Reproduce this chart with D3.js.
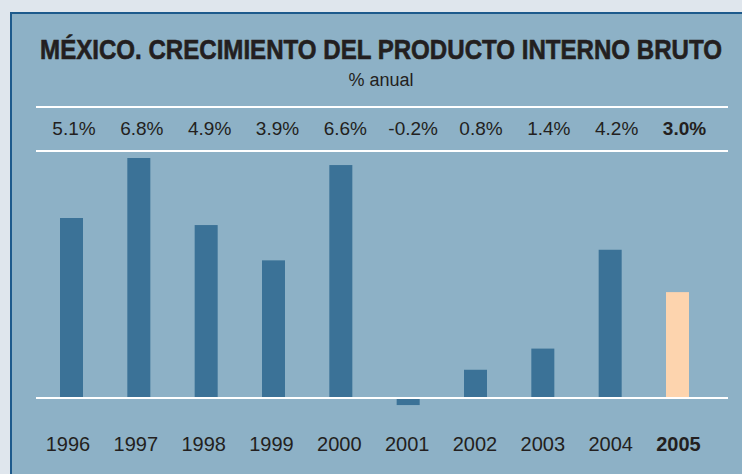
<!DOCTYPE html>
<html>
<head>
<meta charset="utf-8">
<script src="https://cdn.jsdelivr.net/npm/d3@7"></script>
<style>
  html, body { margin: 0; padding: 0; background: #dfe6ed; }
  svg { display: block; }
</style>
</head>
<body>
<div id="chart"></div>
<script>
var years = ["1996", "1997", "1998", "1999", "2000", "2001", "2002", "2003", "2004", "2005"];
var growth = [5.1, 6.8, 4.9, 3.9, 6.6, -0.2, 0.8, 1.4, 4.2, 3.0];
var highlight = "2005";

var width = 742, height = 474;
var panel_fill = '#8db1c6';
var bar_fill = '#3b7297';
var hi_fill = '#fdd4ae';
var text_color = '#231f20';
var line_color = '#ffffff';
var body_font = '"Liberation Sans", Arial, sans-serif';

var svg = d3.select("#chart")
    .append("svg")
    .attr("width", width)
    .attr("height", height);

// outer panel with dark blue frame
svg.append("rect")
    .attr("x", 11)
    .attr("y", 13)
    .attr("width", width + 10)
    .attr("height", height + 10)
    .style("fill", panel_fill)
    .style("stroke", "#1d5a8c")
    .style("stroke-width", 2);

// title - condensed look by squeezing a bold face horizontally
var title_g = svg.append("g");
var title = title_g.append("text")
    .text("MÉXICO. CRECIMIENTO DEL PRODUCTO INTERNO BRUTO")
    .attr("x", 0)
    .attr("y", 0)
    .attr("text-anchor", "middle")
    .style("font-family", '"Liberation Sans", Arial, sans-serif')
    .style("font-weight", "bold")
    .style("font-size", "27px")
    .style("fill", text_color)
    .style("stroke", text_color)
    .style("stroke-width", 0.6);
var tlen = title.node().getComputedTextLength();
var sx = Math.min(1, 682 / tlen);
title_g.attr("transform", "translate(381,59) scale(" + sx + ",1)");

svg.append("text")
    .text("% anual")
    .attr("x", 381)
    .attr("y", 86)
    .attr("text-anchor", "middle")
    .style("font-family", body_font)
    .style("font-size", "18px")
    .style("fill", text_color);

// scales
var x = d3.scalePoint()
    .domain(years)
    .range([71.5, 677.5]);
var bar_w = 23;

var y = d3.scaleLinear()
    .domain([0, 6.8])
    .range([398, 158]);

// labels have their own columns, slightly off the bars
var xval = d3.scalePoint().domain(years).range([74, 684.5]);
var xyear = d3.scalePoint().domain(years).range([67.5, 678]);

// rules
[107, 151].forEach(function(ly){
    svg.append("line")
        .attr("x1", 36).attr("x2", 728)
        .attr("y1", ly).attr("y2", ly)
        .style("stroke", line_color)
        .style("stroke-width", 2);
});

// bars
svg.selectAll("rect.bar")
    .data(years)
    .enter()
    .append("rect")
    .attr("class", "bar")
    .attr("x", function(d){ return x(d) - bar_w/2; })
    .attr("y", function(d, i){ return y(Math.max(0, growth[i])); })
    .attr("width", bar_w)
    .attr("height", function(d, i){ return Math.abs(y(growth[i]) - y(0)); })
    .style("fill", function(d){ return d == highlight ? hi_fill : bar_fill; });

// zero line
svg.append("line")
    .attr("x1", 36).attr("x2", 728)
    .attr("y1", y(0)).attr("y2", y(0))
    .style("stroke", line_color)
    .style("stroke-width", 2);

// value row
svg.selectAll("text.val")
    .data(years)
    .enter()
    .append("text")
    .attr("class", "val")
    .text(function(d, i){ return growth[i].toFixed(1) + "%"; })
    .attr("x", function(d){ return xval(d); })
    .attr("y", 135)
    .attr("text-anchor", "middle")
    .style("font-family", body_font)
    .style("font-size", "19px")
    .style("font-weight", function(d){ return d == highlight ? "bold" : "normal"; })
    .style("fill", text_color);

// year axis
var xAxis = d3.axisBottom(xyear).tickSize(0).tickPadding(0);
var ax = svg.append("g")
    .attr("transform", "translate(0,437)")
    .call(xAxis);
ax.select(".domain").remove();
ax.selectAll("text")
    .attr("dy", "0.71em")
    .style("font-family", body_font)
    .style("font-size", "20px")
    .style("font-weight", function(d){ return d == highlight ? "bold" : "normal"; })
    .style("fill", text_color);
</script>
</body>
</html>
